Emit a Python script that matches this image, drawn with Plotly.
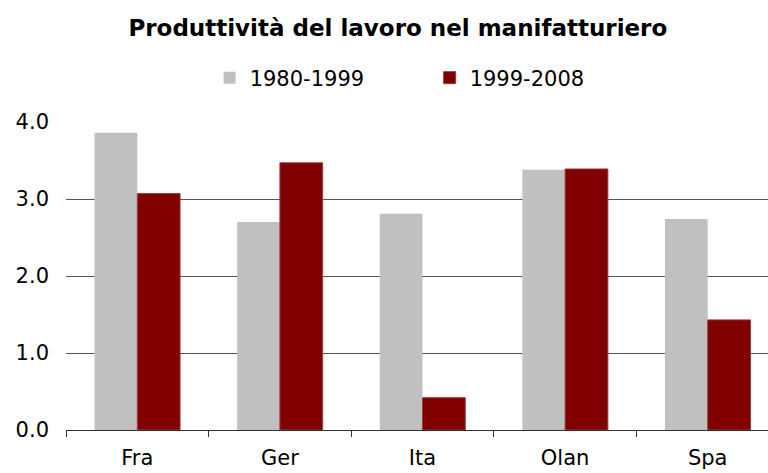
import plotly.graph_objects as go

countries = ["Fra", "Ger", "Ita", "Olan", "Spa"]
p1980_1999 = [3.86, 2.70, 2.81, 3.38, 2.74]
p1999_2008 = [3.07, 3.47, 0.42, 3.39, 1.43]

FONT = "DejaVu Sans"

fig = go.Figure()
fig.add_trace(go.Bar(x=countries, y=p1980_1999, name="1980-1999",
                     marker=dict(color="#c0c0c0", line=dict(width=0))))
fig.add_trace(go.Bar(x=countries, y=p1999_2008, name="1999-2008",
                     marker=dict(color="#800000", line=dict(width=1, color="#9c3c3c"))))

fig.update_layout(
    width=768, height=473,
    margin=dict(l=66, r=0, t=122, b=43, autoexpand=False),
    paper_bgcolor="white", plot_bgcolor="white",
    font=dict(family=FONT, size=21, color="black"),
    title=dict(text="<b>Produttività del lavoro nel manifatturiero</b>",
               x=0.518, xanchor="center", y=1 - 28 / 473, yanchor="middle",
               font=dict(family=FONT, size=23)),
    barmode="group", bargap=0.4, bargroupgap=0,
    legend=dict(orientation="h", x=0.518, xanchor="center", y=1 + 44 / 308, yanchor="middle",
                font=dict(size=21), entrywidth=175, itemwidth=30),
    showlegend=True,
)
# the category band is wider than the visible area: the last band is cut at the right edge
fig.update_xaxes(range=[-0.5, -0.5 + 702 / 142.6], showline=True, linecolor="#333333", linewidth=1,
                 tickson="boundaries", ticks="outside", ticklen=6, tickcolor="#333333",
                 showgrid=False, tickfont=dict(size=21), ticklabelstandoff=9, automargin=False)
fig.update_yaxes(range=[0, 4], dtick=1, tickformat=".1f", showgrid=True,
                 gridcolor="#555555", gridwidth=1, zeroline=False, showline=False,
                 ticks="", tickfont=dict(size=21), ticklabelstandoff=16, automargin=False)

fig.write_html("out.html", config={"displayModeBar": False},
               post_script="document.body.style.margin='0';")
